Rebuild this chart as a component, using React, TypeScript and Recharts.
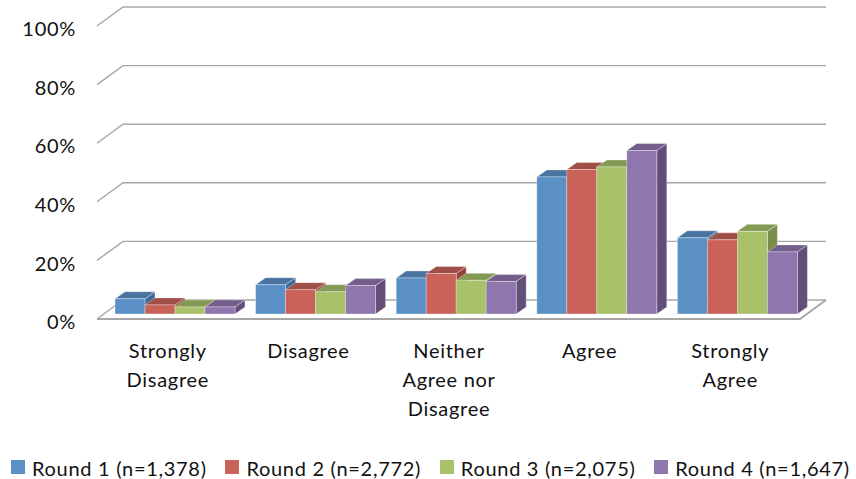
import { BarChart, Bar, XAxis, YAxis, CartesianGrid, Legend } from "recharts";

const categories = ["Strongly Disagree", "Disagree", "Neither Agree nor Disagree", "Agree", "Strongly Agree"];
const categoryLines: Record<string, string[]> = {
  "Strongly Disagree": ["Strongly", "Disagree"],
  Disagree: ["Disagree"],
  "Neither Agree nor Disagree": ["Neither", "Agree nor", "Disagree"],
  Agree: ["Agree"],
  "Strongly Agree": ["Strongly", "Agree"],
};
const round1 = [5.2, 10, 12.3, 46.8, 26];
const round2 = [3.1, 8.3, 13.8, 49.3, 25.3];
const round3 = [2.4, 7.6, 11.5, 50.2, 28.2];
const round4 = [2.4, 9.7, 11.1, 55.8, 21.2];
const yTicks = [0, 20, 40, 60, 80, 100];

const series = [
  { key: "round1", name: "Round 1 (n=1,378)", front: "#5B90C6", top: "#4A74A0", side: "#3F6A97" },
  { key: "round2", name: "Round 2 (n=2,772)", front: "#C9635A", top: "#A04E48", side: "#93443E" },
  { key: "round3", name: "Round 3 (n=2,075)", front: "#A9C169", top: "#849A54", side: "#7A8E4B" },
  { key: "round4", name: "Round 4 (n=1,647)", front: "#8F77AE", top: "#735E8C", side: "#624E78" },
];

const data = categories.map((category, i) => ({
  category,
  round1: round1[i],
  round2: round2[i],
  round3: round3[i],
  round4: round4[i],
}));

const FONT = "Lato, sans-serif";
const TEXT_COLOR = "#111111";
const FONT_SIZE = 20;
const TRACKING = 0.7;
// how far the wall sits behind the front edge of the floor
const WALL_DX = 26;
const WALL_DY = -19;
// bars stand part way into the floor and have a short depth of their own
const BAR_DX = 7;
const BAR_DY = -5;
const DEPTH_DX = 10;
const DEPTH_DY = -7;

function Box(props: any) {
  const { x, y, width, height, fill, top, side } = props;
  const l = x + BAR_DX;
  const r = l + width;
  const t = y + BAR_DY;
  const b = t + height;
  const edge = { stroke: "#ffffff", strokeOpacity: 0.4, strokeWidth: 0.8 };
  return (
    <g>
      <path d={`M${r},${t}L${r + DEPTH_DX},${t + DEPTH_DY}V${b + DEPTH_DY}L${r},${b}Z`} fill={side} {...edge} />
      <path d={`M${l},${t}L${l + DEPTH_DX},${t + DEPTH_DY}H${r + DEPTH_DX}L${r},${t}Z`} fill={top} {...edge} />
      <rect x={l} y={t} width={width} height={height} fill={fill} {...edge} />
    </g>
  );
}

function WallLine(props: any) {
  const { x1, x2, y1 } = props;
  const isFloor = y1 > 300;
  const wall = `M${x1},${y1}L${x1 + WALL_DX},${y1 + WALL_DY}H${x2 + WALL_DX}`;
  return (
    <g>
      <path d={wall} fill="none" stroke="#A6A6A6" strokeWidth={1.4} />
      {isFloor && (
        <path
          d={`M${x1},${y1}H${x2}L${x2 + WALL_DX},${y1 + WALL_DY}`}
          fill="none"
          stroke="#A6A6A6"
          strokeWidth={1.8}
        />
      )}
    </g>
  );
}

function CategoryTick(props: any) {
  const { x, y, payload } = props;
  return (
    <text
      x={x}
      y={y}
      textAnchor="middle"
      fontFamily={FONT}
      fontSize={FONT_SIZE}
      letterSpacing={TRACKING}
      fill={TEXT_COLOR}
    >
      {categoryLines[payload.value].map((line, i) => (
        <tspan key={line} x={x + 0.5} y={y + 31 + i * 29}>
          {line}
        </tspan>
      ))}
    </text>
  );
}

function LegendRow({ payload }: any) {
  return (
    <div style={{ position: "relative", height: 24, fontFamily: FONT, fontSize: FONT_SIZE, color: TEXT_COLOR }}>
      {(payload || []).map((entry: any, i: number) => (
        <div key={entry.value} style={{ position: "absolute", left: 11 + i * 214.4, top: 0, whiteSpace: "nowrap" }}>
          <span
            style={{ position: "absolute", left: 0, top: 5, width: 14, height: 14, background: entry.color }}
          />
          <span style={{ position: "absolute", left: 21, top: 1, letterSpacing: TRACKING }}>{entry.value}</span>
        </div>
      ))}
    </div>
  );
}

export default function App() {
  return (
    <div style={{ position: "absolute", left: 0, top: 0, width: 856, height: 479 }}>
      <BarChart
        width={856}
        height={479}
        data={data}
        margin={{ top: 26, right: 56, bottom: 0, left: 0 }}
        barCategoryGap={11}
        barGap={0}
      >
        <CartesianGrid vertical={false} horizontal={WallLine} />
        <XAxis dataKey="category" height={136} axisLine={false} tickLine={false} tick={CategoryTick} interval={0} />
        <YAxis
          width={97}
          domain={[0, 100]}
          ticks={yTicks}
          tickFormatter={(v) => `${v}%`}
          axisLine={false}
          tickLine={false}
          tickMargin={15}
          tick={{ fontFamily: FONT, fontSize: FONT_SIZE, fill: TEXT_COLOR, letterSpacing: TRACKING, dy: 3 }}
        />
        <Legend verticalAlign="bottom" height={24} content={LegendRow} />
        {series.map((s) => (
          <Bar
            key={s.key}
            dataKey={s.key}
            name={s.name}
            fill={s.front}
            isAnimationActive={false}
            shape={(p: any) => <Box {...p} top={s.top} side={s.side} />}
          />
        ))}
      </BarChart>
    </div>
  );
}
